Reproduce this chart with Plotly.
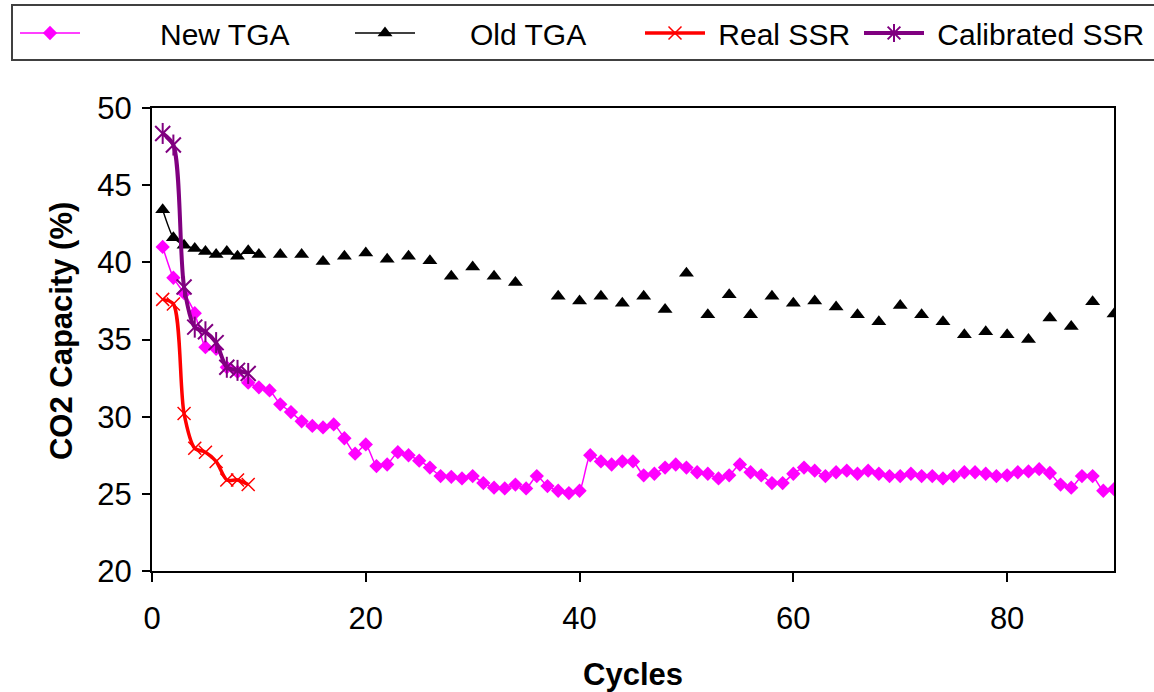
import plotly.graph_objects as go

# ---------------- data ----------------
cycles = list(range(1, 91))

new_tga = [41.0, 39.0, 38.0, 36.7, 34.5, 34.4, 33.2, 32.9, 32.2, 31.9,
           31.7, 30.8, 30.3, 29.7, 29.4, 29.3, 29.5, 28.6, 27.6, 28.2,
           26.8, 26.9, 27.7, 27.5, 27.15, 26.7, 26.15, 26.1, 26.0, 26.15,
           25.7, 25.4, 25.35, 25.6, 25.35, 26.15, 25.5, 25.2, 25.05, 25.2,
           27.5, 27.1, 26.9, 27.1, 27.1, 26.2, 26.3, 26.7, 26.9, 26.7,
           26.4, 26.3, 26.0, 26.2, 26.9, 26.4, 26.2, 25.7, 25.7, 26.3,
           26.7, 26.5, 26.15, 26.4, 26.5, 26.3, 26.5, 26.3, 26.15, 26.15,
           26.3, 26.15, 26.15, 26.0, 26.15, 26.4, 26.4, 26.3, 26.15, 26.2,
           26.4, 26.45, 26.6, 26.35, 25.6, 25.4, 26.15, 26.15, 25.2, 25.3]

old_cycles = [1, 2, 3, 4, 5, 6, 7, 8, 9, 10, 12, 14, 16, 18, 20, 22, 24, 26,
              28, 30, 32, 34, 38, 40, 42, 44, 46, 48, 50, 52, 54, 56, 58, 60,
              62, 64, 66, 68, 70, 72, 74, 76, 78, 80, 82, 84, 86, 88, 90]
old_tga = [43.4, 41.6, 41.1, 40.9, 40.7, 40.5, 40.7, 40.4, 40.75, 40.5,
           40.5, 40.5, 40.05, 40.4, 40.6, 40.2, 40.4, 40.1, 39.1, 39.7,
           39.1, 38.7, 37.8, 37.5, 37.8, 37.35, 37.8, 36.95, 39.3, 36.6,
           37.9, 36.6, 37.8, 37.35, 37.5, 37.1, 36.6, 36.15, 37.2, 36.6,
           36.15, 35.3, 35.5, 35.3, 35.0, 36.4, 35.85, 37.45, 36.65]

ssr_cycles = [1, 2, 3, 4, 5, 6, 7, 8, 9]
real_ssr = [37.6, 37.3, 30.2, 27.95, 27.7, 27.1, 25.9, 25.9, 25.6]
calibrated_ssr = [48.35, 47.6, 38.4, 35.8, 35.5, 34.8, 33.2, 33.0, 32.8]

x_ticks = [0, 20, 40, 60, 80]
y_ticks = [20, 25, 30, 35, 40, 45, 50]

# old TGA on the full cycle grid (missing cycles -> gaps in the line)
old_map = dict(zip(old_cycles, old_tga))
old_full = [old_map.get(c) for c in cycles]

FONT = "Liberation Sans, Arial, sans-serif"
NB = "\u00a0"

# plot-area geometry (pixels) used to place legends in paper coordinates
W, H = 1154, 692
L_PX, R_PX, T_PX, B_PX = 152, 1114, 108, 571
PW, PH = R_PX - L_PX, B_PX - T_PX


def px_x(px):
    return (px - L_PX) / PW


def px_y(py):
    return 1 + (T_PX - py) / PH


fig = go.Figure()

fig.add_trace(go.Scatter(
    x=cycles, y=new_tga, mode="lines+markers", name=NB * 9 + "New TGA",
    legend="legend",
    line=dict(color="#FF00FF", width=1.5, shape="spline", smoothing=0.6),
    marker=dict(symbol="diamond", size=11, color="#FF00FF"),
))
fig.add_trace(go.Scatter(
    x=cycles, y=old_full, mode="lines+markers", name=NB * 6 + "Old TGA",
    legend="legend2", connectgaps=False,
    line=dict(color="black", width=1.5, shape="spline", smoothing=0.6),
    marker=dict(symbol="triangle-up", size=13, color="black"),
))
fig.add_trace(go.Scatter(
    x=ssr_cycles, y=real_ssr, mode="lines+markers", name=NB + "Real SSR",
    legend="legend3",
    line=dict(color="#FF0000", width=3.5, shape="spline", smoothing=0.8),
    marker=dict(symbol="x-thin-open", size=13, color="#FF0000",
                line=dict(color="#FF0000", width=1.5)),
))
# Calibrated SSR: line + x marks, plus vertical bars to form the Excel star
fig.add_trace(go.Scatter(
    x=ssr_cycles, y=calibrated_ssr, mode="lines+markers", showlegend=False,
    line=dict(color="#800080", width=4, shape="spline", smoothing=0.8),
    marker=dict(symbol="x-thin-open", size=15, color="#800080",
                line=dict(color="#800080", width=2)),
))
fig.add_trace(go.Scatter(
    x=ssr_cycles, y=calibrated_ssr, mode="markers", showlegend=False,
    marker=dict(symbol="line-ns-open", size=15, color="#800080",
                line=dict(color="#800080", width=2)),
))
# legend entry for the calibrated series (asterisk over thick line)
fig.add_trace(go.Scatter(
    x=[None], y=[None], mode="lines+markers", name=NB + "Calibrated SSR",
    legend="legend4",
    line=dict(color="#800080", width=4),
    marker=dict(symbol="asterisk-open", size=15, color="#800080",
                line=dict(color="#800080", width=2)),
))

leg_font = dict(family=FONT, size=30, color="black")


def leg(px_left):
    return dict(
        orientation="h", x=px_x(px_left), y=px_y(33),
        xanchor="left", yanchor="middle",
        borderwidth=0, bgcolor="rgba(0,0,0,0)",
        font=leg_font, itemwidth=60,
    )


fig.update_layout(
    width=W, height=H,
    paper_bgcolor="white", plot_bgcolor="white",
    font=dict(family=FONT, size=31, color="black"),
    margin=dict(l=L_PX, r=W - R_PX, t=T_PX, b=H - B_PX, autoexpand=False),
    showlegend=True,
    legend=leg(15),
    legend2=leg(350),
    legend3=leg(640),
    legend4=leg(859),
    shapes=[dict(
        type="rect", xref="paper", yref="paper",
        x0=px_x(12), x1=px_x(1162), y0=px_y(60), y1=px_y(5),
        line=dict(color="#404040", width=2), fillcolor="rgba(0,0,0,0)",
        layer="below",
    )],
    xaxis=dict(
        range=[0, 90], tickvals=x_ticks, ticktext=[str(v) for v in x_ticks],
        showgrid=False, zeroline=False,
        showline=True, linecolor="black", linewidth=2, mirror=True,
        ticks="outside", ticklen=9, tickwidth=1.5, tickcolor="black",
        tickfont=dict(family=FONT, size=31, color="black"),
        ticklabelstandoff=10,
        title=dict(text="<b>Cycles</b>", standoff=28,
                   font=dict(family=FONT, size=31, color="black")),
    ),
    yaxis=dict(
        range=[20, 50], tickvals=y_ticks, ticktext=[str(v) for v in y_ticks],
        showgrid=False, zeroline=False,
        showline=True, linecolor="black", linewidth=2, mirror=True,
        ticks="outside", ticklen=8, tickwidth=1.5, tickcolor="black",
        tickfont=dict(family=FONT, size=31, color="black"),
        ticklabelstandoff=4,
        title=dict(text="<b>" + NB * 2 + "CO2 Capacity (%)</b>", standoff=15,
                   font=dict(family=FONT, size=31, color="black")),
    ),
)

fig.write_html("out.html", config={"displayModeBar": False},
               post_script="document.body.style.margin='0px';")
